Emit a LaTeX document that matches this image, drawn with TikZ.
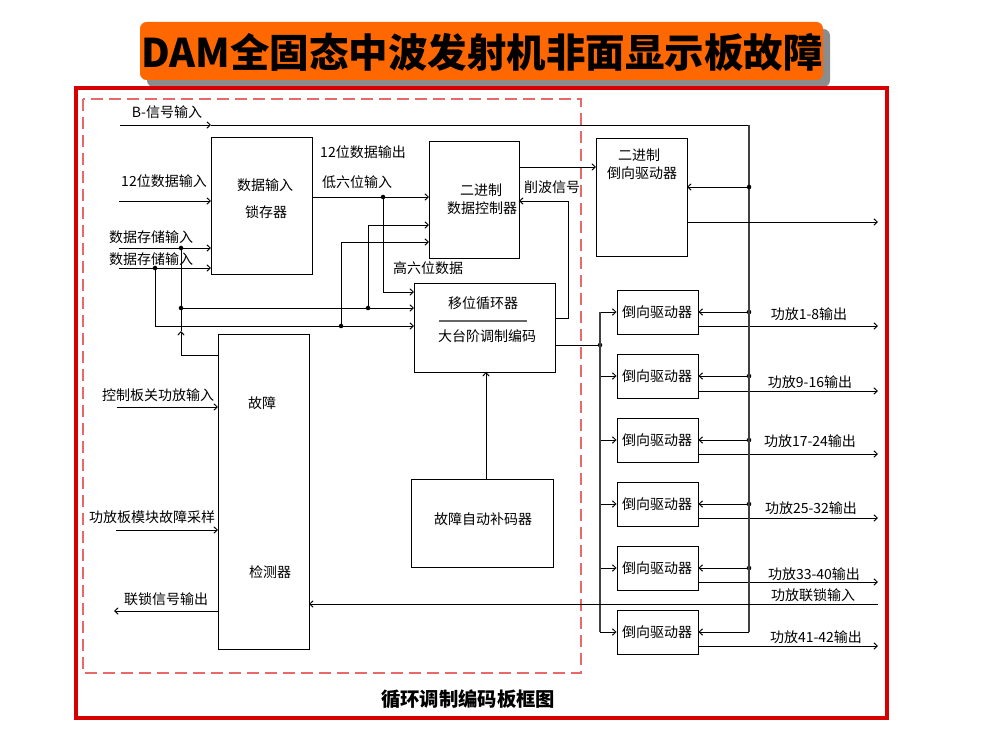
\documentclass[tikz,border=0pt]{standalone}
\usepackage{fontspec}
\setmainfont{Noto Sans CJK SC}
\usetikzlibrary{arrows.meta,fit}
\definecolor{ttl}{RGB}{255,104,0}
\definecolor{frm}{RGB}{215,0,0}
\definecolor{dsh}{RGB}{232,105,105}
\begin{document}
\begin{tikzpicture}[x=0.75pt,y=-0.75pt,
  box/.style={draw,line width=0.7pt,inner sep=0pt},
  lbl/.style={inner sep=0pt,font=\fontsize{10.5}{12}\selectfont},
  ln/.style={line width=0.7pt},
  arr/.style={ln,-{Straight Barb[length=2.6pt,width=4.8pt]}},
  bus/.style={line width=0.9pt,black!75},
  dot/.style={circle,fill,inner sep=0pt,minimum size=3.4pt}]
\useasboundingbox (0,0) rectangle (985,735);
% title
\fill[black!45,rounded corners=5] (147,29) rectangle (830,87);
\fill[ttl,rounded corners=5] (140,22) rectangle (823,80);
\node[inner sep=0pt,font=\bfseries\fontsize{29.6}{31}\selectfont] (title) at (482,52) {DAM全固态中波发射机非面显示板故障};
% frames
\draw[frm,line width=2.4pt] (76,88) rectangle (887,718);
\draw[dsh,line width=1.1pt,dash pattern=on 9pt off 4.5pt] (83,99) rectangle (581,673);
\node[inner sep=0pt,font=\bfseries\fontsize{14.5}{16}\selectfont] (cap) at (468,699) {循环调制编码板框图};
% boxes
\node[box,fit={(211,137)(312,274)}] (latch) {};
\node[lbl] (latchA) at (265,185) {数据输入};
\node[lbl] (latchB) at (266,212) {锁存器};
\node[box,fit={(429,141)(519,258)}] (ctrl) {};
\node[lbl] (ctrlA) at (481,190) {二进制};
\node[lbl] (ctrlB) at (482,208) {数据控制器};
\node[box,fit={(596,138)(687,256)}] (bdrv) {};
\node[lbl] (bdrvA) at (639,155) {二进制};
\node[lbl] (bdrvB) at (642,173) {倒向驱动器};
\node[box,fit={(414,283)(555,372)}] (shift) {};
\node[lbl] (shiftA) at (483,303) {移位循环器};
\draw[black!60,line width=1.2pt] (439,321) -- (527,321);
\node[lbl] (shiftB) at (487,336) {大台阶调制编码};
\node[box,fit={(218,334)(309,649)}] (fault) {};
\node[lbl] (faultA) at (262,403) {故障};
\node[lbl] (faultB) at (270,572) {检测器};
\node[box,fit={(411,479)(553,567)}] (auto) {};
\node[lbl] (autoA) at (483,519) {故障自动补码器};
% labels
\node[lbl] (lB) at (167,112) {B-信号输入};
\node[lbl] (l12in) at (164,181) {12位数据输入};
\node[lbl] (ls1) at (151,237) {数据存储输入};
\node[lbl] (ls2) at (151,259) {数据存储输入};
\node[lbl] (l12out) at (363,152) {12位数据输出};
\node[lbl] (llow) at (357,182) {低六位输入};
\node[lbl] (lhigh) at (428,268) {高六位数据};
\node[lbl] (lcut) at (552,187) {削波信号};
\node[lbl] (lctl) at (158,395) {控制板关功放输入};
\node[lbl] (lsmp) at (152,517) {功放板模块故障采样};
\node[lbl] (llock) at (166,599) {联锁信号输出};
\node[lbl] (llockin) at (813,595) {功放联锁输入};
% driver boxes
\foreach \yc/\oy/\ly/\lx/\t [count=\i] in {312/326/314/809/功放1-8输出,376/391/382/810/功放9-16输出,440/454/441/810/功放17-24输出,504/518/508/811/功放25-32输出,568/582/574/814/功放33-40输出,632/646/637/816/功放41-42输出}{
  \node[box,fit={(617,\yc-22)(698,\yc+22)}] (drv\i) {};
  \node[lbl] (drvt\i) at (657,\yc) {倒向驱动器};
  \node[lbl] (out\i) at (\lx,\ly) {\t};
  \coordinate (o\i) at (878,\oy);
  \coordinate (oo\i) at (698,\oy);
  \draw[arr] (oo\i) -- (o\i);
  \coordinate (lb\i) at (600,\yc);
  \draw[arr] (lb\i) -- (drv\i.west);
}
\foreach \i in {1,...,5}{
  \node[dot] (fb\i) at (749,{312+64*(\i-1)}) {};
  \draw[arr] (fb\i.center) -- (drv\i.east);
}
% B signal and right bus
\coordinate (bin) at (120,125);
\coordinate (bmid) at (211,125);
\coordinate (btop) at (749,125);
\coordinate (bbot) at (749,632);
\draw[arr] (bin) -- (bmid);
\draw[ln] (bmid) -- (btop);
\draw[bus] (btop) -- (bbot);
\draw[arr] (bbot) -- (drv6.east);
\node[dot] (fb0) at (749,187) {};
\coordinate (fb0e) at (687,187);
\draw[arr] (fb0.center) -- (fb0e);
\coordinate (bo) at (878,222);
\coordinate (boe) at (687,222);
\draw[arr] (boe) -- (bo);
% left bus
\node[dot] (sp) at (600,345) {};
\coordinate (spe) at (555,345);
\draw[ln] (spe) -- (sp.center);
\draw[bus] (lb1) -- (lb6);
% ctrl to bdrv
\coordinate (k1) at (519,167);
\coordinate (k2) at (596,167);
\draw[arr] (k1) -- (k2);
% cut signal
\coordinate (c0) at (555,318);
\coordinate (c1) at (568,318);
\coordinate (c2) at (568,201);
\coordinate (c3) at (519,201);
\draw[arr] (c0) -- (c1) -- (c2) -- (c3);
% latch to ctrl
\coordinate (le) at (312,197);
\node[dot] (dl) at (383,197) {};
\coordinate (ce) at (429,197);
\draw[arr] (le) -- (ce);
\coordinate (dlb) at (383,292);
\coordinate (dls) at (414,292);
\draw[arr] (dl.center) -- (dlb) -- (dls);
\coordinate (h1) at (368,225);
\coordinate (h1e) at (429,225);
\node[dot] (dh) at (368,308) {};
\draw[arr] (dh.center) -- (h1) -- (h1e);
\coordinate (h2) at (341,242);
\coordinate (h2e) at (429,242);
\node[dot] (dg) at (341,326) {};
\draw[arr] (dg.center) -- (h2) -- (h2e);
% lines to shift box
\node[dot] (da) at (181,308) {};
\coordinate (dae) at (414,308);
\draw[arr] (da.center) -- (dae);
\node[dot] (ds2) at (155,268) {};
\coordinate (ds2b) at (155,326);
\coordinate (ds2e) at (414,326);
\draw[arr] (ds2.center) -- (ds2b) -- (ds2e);
\node[dot] (ds1) at (181,248) {};
\coordinate (fw) at (218,355);
\coordinate (fa) at (181,355);
\coordinate (fm) at (181,331);
\draw[ln] (fw) -- (fa);
\draw[arr] (fa) -- (fm);
\draw[ln] (fm) -- (ds1.center);
% left inputs
\coordinate (i1) at (119,201); \coordinate (i1e) at (211,201);
\draw[arr] (i1) -- (i1e);
\coordinate (i2) at (119,248); \coordinate (i2e) at (211,248);
\draw[arr] (i2) -- (i2e);
\coordinate (i3) at (119,268); \coordinate (i3e) at (211,268);
\draw[arr] (i3) -- (i3e);
\coordinate (i4) at (117,407); \coordinate (i4e) at (218,407);
\draw[arr] (i4) -- (i4e);
\coordinate (i5) at (116,530); \coordinate (i5e) at (218,530);
\draw[arr] (i5) -- (i5e);
\coordinate (i6) at (218,611); \coordinate (i6e) at (114,611);
\draw[arr] (i6) -- (i6e);
\coordinate (lk) at (878,604); \coordinate (lke) at (309,604);
\draw[arr] (lk) -- (lke);
% auto to shift
\coordinate (au) at (486,479); \coordinate (aue) at (486,372);
\draw[arr] (au) -- (aue);
\end{tikzpicture}
\end{document}
